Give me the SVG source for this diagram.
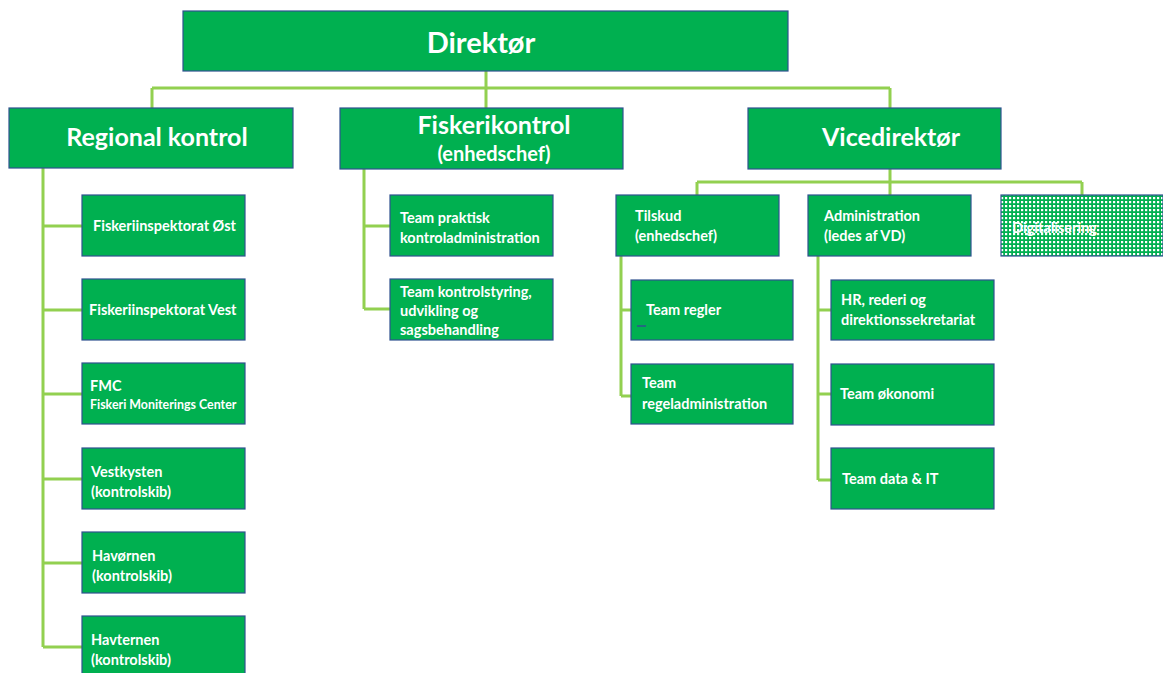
<svg xmlns="http://www.w3.org/2000/svg" width="1163" height="673" viewBox="0 0 1163 673">
<style>
.box{fill:#00B050;stroke:#2F528F;stroke-width:1.2}
.ln{fill:none;stroke:#92D050;stroke-width:3}
text{font-family:Lato,"Open Sans","Liberation Sans",sans-serif;font-weight:bold;fill:#FFFFFF}
.big{font-size:25px}
.sm{font-size:14.5px}
</style>
<defs>
<pattern id="dots" x="0" y="0" width="4" height="4" patternUnits="userSpaceOnUse">
<rect width="4" height="4" fill="#00B050"/>
<rect x="1" y="1" width="2.2" height="2.2" fill="#FFFFFF"/>
</pattern>
</defs>
<rect width="1163" height="673" fill="#FFFFFF"/>
<g id="connectors">
<path class="ln" d="M486 71V88M152 88H890M152 88V108M486 88V108M890 88V108"/>
<path class="ln" d="M43 168V647M43 226H82M43 310H82M43 394H82M43 479H82M43 563H82M43 647H82"/>
<path class="ln" d="M364 169V309M364 226H390M364 309H390"/>
<path class="ln" d="M890 169V182M697 182H1082M697 182V195M890 182V195M1082 182V195"/>
<path class="ln" d="M621 256V396M621 310H631M621 396H631"/>
<path class="ln" d="M818 256V480M818 310H831M818 394H831M818 480H831"/>
</g>
<g id="direktor"><rect class="box" x="183" y="11" width="605" height="60"/><text x="481" y="53" font-size="29" text-anchor="middle">Direktør</text></g>
<g id="regional"><rect class="box" x="9" y="108" width="284" height="60"/><text class="big" x="157" y="146" text-anchor="middle">Regional kontrol</text></g>
<g id="fiskerikontrol"><rect class="box" x="340" y="108" width="283" height="61"/><text class="big" x="494" y="134" text-anchor="middle">Fiskerikontrol</text><text x="494" y="161" font-size="20" text-anchor="middle">(enhedschef)</text></g>
<g id="vicedirektor"><rect class="box" x="748" y="108" width="253" height="61"/><text class="big" x="891" y="146" text-anchor="middle">Vicedirektør</text></g>
<g id="ost"><rect class="box" x="82" y="195" width="163" height="61"/><text class="sm" x="93" y="231">Fiskeriinspektorat Øst</text></g>
<g id="vest"><rect class="box" x="82" y="279" width="163" height="61"/><text class="sm" x="89" y="315">Fiskeriinspektorat Vest</text></g>
<g id="fmc"><rect class="box" x="82" y="363" width="163" height="61"/><text class="sm" x="90" y="391">FMC</text><text x="90" y="409" font-size="12.4">Fiskeri Moniterings Center</text></g>
<g id="vestkysten"><rect class="box" x="82" y="448" width="163" height="61"/><text class="sm" x="91" y="477">Vestkysten</text><text class="sm" x="91" y="497">(kontrolskib)</text></g>
<g id="havornen"><rect class="box" x="82" y="532" width="163" height="61"/><text class="sm" x="92" y="561">Havørnen</text><text class="sm" x="92" y="581">(kontrolskib)</text></g>
<g id="havternen"><rect class="box" x="82" y="616" width="163" height="61"/><text class="sm" x="91" y="645">Havternen</text><text class="sm" x="91" y="665">(kontrolskib)</text></g>
<g id="praktisk"><rect class="box" x="390" y="195" width="163" height="61"/><text class="sm" x="400" y="223">Team praktisk</text><text class="sm" x="400" y="243">kontroladministration</text></g>
<g id="kontrolstyring"><rect class="box" x="390" y="279" width="163" height="61"/><text class="sm" x="400" y="297">Team kontrolstyring,</text><text class="sm" x="400" y="316">udvikling og</text><text class="sm" x="400" y="335">sagsbehandling</text></g>
<g id="tilskud"><rect class="box" x="616" y="195" width="163" height="61"/><text class="sm" x="635" y="221">Tilskud</text><text class="sm" x="635" y="241">(enhedschef)</text></g>
<g id="administration"><rect class="box" x="808" y="195" width="163" height="61"/><text class="sm" x="824" y="221">Administration</text><text class="sm" x="824" y="241">(ledes af VD)</text></g>
<g id="digitalisering"><rect x="1001" y="195" width="162" height="61" fill="url(#dots)" stroke="#2F528F" stroke-width="1.2"/><text class="sm" x="1012" y="233">Digitalisering</text></g>
<g id="regler"><rect class="box" x="631" y="280" width="162" height="60"/><text class="sm" x="646" y="315">Team regler</text><line x1="637" y1="326" x2="646" y2="326" stroke="#2F528F" stroke-width="1.5"/></g>
<g id="regeladministration"><rect class="box" x="631" y="364" width="162" height="60"/><text class="sm" x="642" y="388">Team</text><text class="sm" x="642" y="409">regeladministration</text></g>
<g id="hr"><rect class="box" x="831" y="280" width="163" height="60"/><text class="sm" x="841" y="305">HR, rederi og</text><text class="sm" x="841" y="325">direktionssekretariat</text></g>
<g id="okonomi"><rect class="box" x="831" y="364" width="163" height="61"/><text class="sm" x="840" y="399">Team økonomi</text></g>
<g id="data"><rect class="box" x="831" y="448" width="163" height="61"/><text class="sm" x="842" y="484">Team data &amp; IT</text></g>
</svg>
